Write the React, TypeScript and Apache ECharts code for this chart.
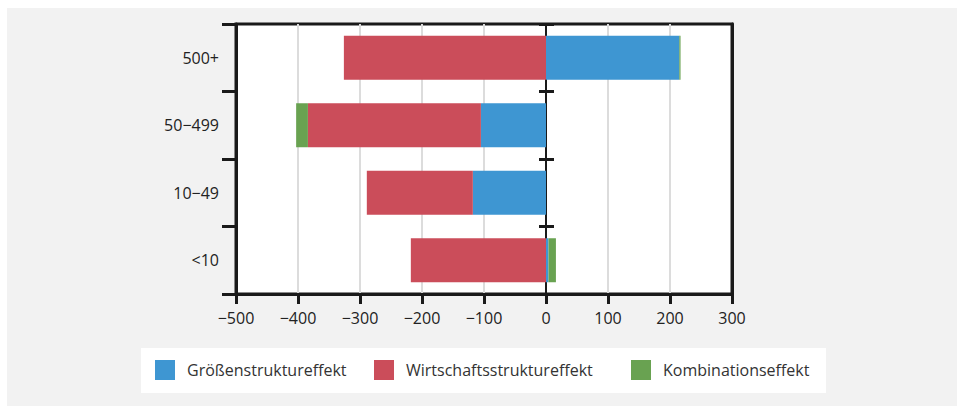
import React, { useEffect, useRef } from "react";
import * as echarts from "echarts";

const categories = ["<10", "10\u221249", "50\u2212499", "500+"];
const seriesNames = ["Größenstruktureffekt", "Wirtschaftsstruktureffekt", "Kombinationseffekt"];
const groesse = [4, -118, -105, 215];
const wirtschaft = [-218, -171, -279, -326];
const kombination = [12, 0, -19, 2];
const colors = ["#3e96d2", "#cb4d5a", "#69a251"];

const FONT = "Open Sans";
const legendLefts = [148, 367, 624];

export default function App() {
  const ref = useRef<HTMLDivElement>(null);
  useEffect(() => {
    if (!ref.current) return;
    const chart = echarts.init(ref.current, undefined, { renderer: "svg" });
    const values = [groesse, wirtschaft, kombination];
    chart.setOption({
      animation: false,
      backgroundColor: "#f2f2f2",
      textStyle: { fontFamily: FONT },
      grid: {
        left: 229,
        top: 16,
        width: 496,
        height: 270,
        show: true,
        backgroundColor: "#ffffff",
        borderColor: "#1a1a1a",
        borderWidth: 3,
        containLabel: false,
      },
      graphic: [
        {
          type: "rect",
          left: 134,
          top: 340,
          shape: { width: 685, height: 45 },
          style: { fill: "#ffffff" },
          z: -10,
          silent: true,
        },
      ],
      legend: seriesNames.map((name, i) => ({
        left: legendLefts[i],
        top: 352,
        padding: 0,
        itemWidth: 20,
        itemHeight: 20,
        icon: "rect",
        textStyle: { fontFamily: FONT, fontSize: 16, color: "#333", padding: [0, 0, 0, 7] },
        data: [name],
      })),
      xAxis: {
        type: "value",
        min: -500,
        max: 300,
        interval: 100,
        axisLine: { show: true, onZero: false, lineStyle: { color: "#1a1a1a", width: 3 } },
        axisTick: { show: true, length: 10, lineStyle: { color: "#1a1a1a", width: 3 } },
        axisLabel: {
          margin: 16,
          fontSize: 16,
          color: "#222",
          fontFamily: FONT,
          formatter: (v: number) => (v < 0 ? "\u2212" + Math.abs(v) : String(v)),
        },
        splitLine: { show: true, lineStyle: { color: "#dcdcdc", width: 2 } },
      },
      yAxis: [
        {
          type: "category",
          data: categories,
          position: "left",
          axisLine: { show: true, onZero: false, lineStyle: { color: "#1a1a1a", width: 3 } },
          axisTick: { show: true, length: 14, lineStyle: { color: "#1a1a1a", width: 3 } },
          axisLabel: { margin: 17, fontSize: 16, color: "#222", fontFamily: FONT },
        },
        {
          type: "category",
          data: categories,
          position: "left",
          axisLine: { show: true, onZero: true, lineStyle: { color: "#1a1a1a", width: 2 } },
          axisTick: { show: false },
          axisLabel: { show: false },
        },
        {
          type: "category",
          data: categories,
          position: "left",
          offset: -318,
          axisLine: { show: false, onZero: false },
          axisTick: { show: true, length: 15, lineStyle: { color: "#1a1a1a", width: 3 } },
          axisLabel: { show: false },
        },
        {
          type: "category",
          data: categories,
          position: "right",
          axisLine: { show: true, onZero: false, lineStyle: { color: "#1a1a1a", width: 3 } },
          axisTick: { show: false },
          axisLabel: { show: false },
        },
      ],
      series: seriesNames.map((name, i) => ({
        name,
        type: "bar",
        stack: "total",
        yAxisIndex: 0,
        barWidth: 44,
        itemStyle: { color: colors[i] },
        data: values[i],
        z: 1,
      })),
    });
    return () => chart.dispose();
  }, []);
  return (
    <div
      ref={ref}
      style={{ position: "fixed", left: 7, top: 8, width: 950, height: 398 }}
    />
  );
}
